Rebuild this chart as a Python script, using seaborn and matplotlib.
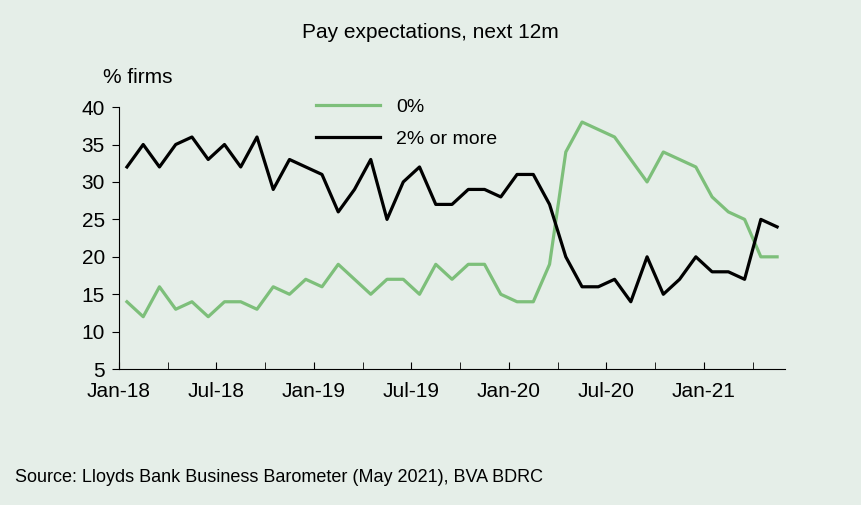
import matplotlib
matplotlib.use("Agg")
import matplotlib.pyplot as plt
import seaborn as sns
import pandas as pd
import numpy as np

plt.rcParams["font.family"] = "Liberation Sans"

months = pd.date_range("2018-01-01", periods=41, freq="MS").strftime("%b-%y").tolist()
zero_pct = [14,12,16,13,14,12,14,14,13,16,15,17,16,19,17,15,17,17,15,19,17,19,19,15,14,14,19,34,38,37,36,33,30,34,33,32,28,26,25,20,20]
two_plus = [32,35,32,35,36,33,35,32,36,29,33,32,31,26,29,33,25,30,32,27,27,29,29,28,31,31,27,20,16,16,17,14,20,15,17,20,18,18,17,25,24]
tick_labels = ["Jan-18","Jul-18","Jan-19","Jul-19","Jan-20","Jul-20","Jan-21"]

bg = "#e5eee8"
df = pd.DataFrame({"idx": np.arange(len(months)), "0%": zero_pct, "2% or more": two_plus})
long = df.melt(id_vars="idx", var_name="series", value_name="val")

fig = plt.figure(figsize=(8.61, 5.05), dpi=100, facecolor=bg)
ax = fig.add_axes([0.138, 0.269, 0.774, 0.519], facecolor=bg)
sns.lineplot(data=long, x="idx", y="val", hue="series",
             palette={"0%": "#7dbf7a", "2% or more": "#000000"}, linewidth=2.3, ax=ax)
ax.set_xlim(-0.5, 40.5)
ax.set_ylim(5, 40)
ax.set_yticks(range(5, 41, 5))
ax.set_xticks([k*3 - 0.5 for k in range(14)], minor=True)
ax.set_xticks([k*6 - 0.5 for k in range(7)])
ax.set_xticklabels(tick_labels)
ax.tick_params(axis="x", which="both", direction="in", length=5, labelsize=15, pad=9)
ax.tick_params(axis="y", direction="out", length=5, labelsize=15, pad=5)
for s in ["top", "right"]:
    ax.spines[s].set_visible(False)
ax.set_xlabel("")
ax.set_ylabel("")
ax.legend(loc="upper left", bbox_to_anchor=(0.27, 1.1), frameon=False, fontsize=14,
          handlelength=3.3, labelspacing=0.75)
fig.text(0.5, 0.925, "Pay expectations, next 12m", ha="center", fontsize=15)
fig.text(0.12, 0.835, "% firms", ha="left", fontsize=15)
fig.text(0.018, 0.045, "Source: Lloyds Bank Business Barometer (May 2021), BVA BDRC", fontsize=13)
fig.savefig("out.png", dpi=100, facecolor=bg)
